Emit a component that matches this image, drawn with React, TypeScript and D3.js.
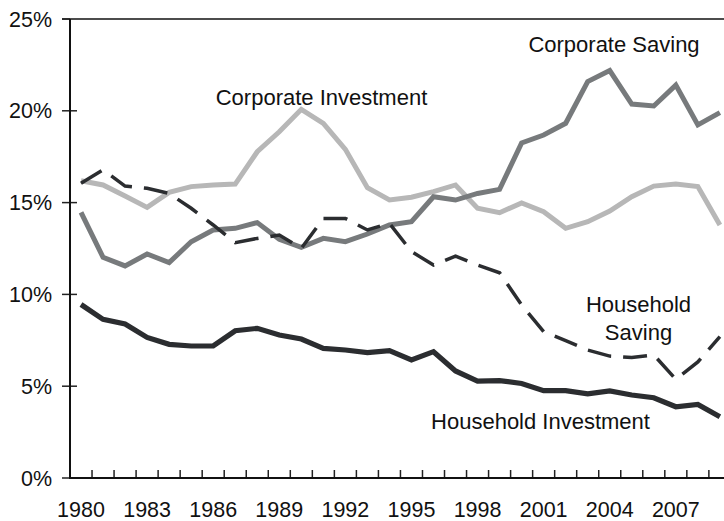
import React from "react";
import * as d3 from "d3";

const years = d3.range(1980, 2010);
const yTicks = [0, 5, 10, 15, 20, 25];
const xLabelYears = [1980, 1983, 1986, 1989, 1992, 1995, 1998, 2001, 2004, 2007];

const corporateSaving = [14.47, 12.02, 11.55, 12.2, 11.73, 12.87, 13.51, 13.6, 13.91, 13.0, 12.56, 13.05, 12.87, 13.29, 13.78, 13.96, 15.32, 15.14, 15.5, 15.72, 18.25, 18.68, 19.32, 21.59, 22.19, 20.37, 20.26, 21.4, 19.23, 19.9];
const corporateInvestment = [16.19, 15.96, 15.36, 14.74, 15.56, 15.87, 15.96, 16.01, 17.77, 18.86, 20.08, 19.32, 17.9, 15.81, 15.14, 15.29, 15.6, 15.96, 14.69, 14.45, 14.98, 14.5, 13.6, 13.96, 14.54, 15.32, 15.9, 16.01, 15.87, 13.78];
const householdSaving = [16.05, 16.78, 15.9, 15.78, 15.5, 14.69, 13.78, 12.82, 13.05, 13.23, 12.51, 14.14, 14.14, 13.51, 13.87, 12.33, 11.6, 12.09, 11.6, 11.18, 9.42, 7.97, 7.48, 6.97, 6.64, 6.56, 6.7, 5.38, 6.32, 7.7];
const householdInvestment = [9.45, 8.64, 8.39, 7.66, 7.28, 7.19, 7.19, 8.02, 8.15, 7.79, 7.57, 7.06, 6.97, 6.83, 6.94, 6.43, 6.88, 5.83, 5.28, 5.3, 5.15, 4.76, 4.76, 4.58, 4.74, 4.52, 4.37, 3.88, 4.01, 3.34];

const W = 724;
const H = 521;
const left = 70;
const top = 19;
const bottom = 478;
const step = 22.03;
const font = "'Liberation Sans', Arial, sans-serif";

export default function App() {
  const x = d3
    .scaleBand<number>()
    .domain(years)
    .range([left, left + years.length * step])
    .padding(0);
  const y = d3.scaleLinear().domain([0, 25]).range([bottom, top]);
  const cx = (yr: number) => (x(yr) as number) + x.bandwidth() / 2;
  const line = d3
    .line<number>()
    .x((_, i) => cx(years[i]))
    .y((v) => y(v));

  const series = [
    { data: corporateInvestment, color: "#b7b7b7", width: 5, dash: undefined },
    { data: corporateSaving, color: "#777a7c", width: 5, dash: undefined },
    { data: householdSaving, color: "#2b2d30", width: 3.5, dash: "24,12" },
    { data: householdInvestment, color: "#2b2d30", width: 5.2, dash: undefined },
  ];

  return (
    <svg
      width={W}
      height={H}
      style={{ position: "fixed", left: 0, top: 0, background: "#fff" }}
      fontFamily={font}
    >
      <rect x={0} y={0} width={W} height={H} fill="#fff" />
      {/* top border */}
      <line x1={62} x2={W} y1={y(25)} y2={y(25)} stroke="#111" strokeWidth={1.6} />
      {/* y ticks */}
      {yTicks.map((t) => (
        <g key={t}>
          <line x1={62} x2={t === 0 || t === 25 ? left : 77} y1={y(t)} y2={y(t)} stroke="#222" strokeWidth={1.5} />
          <text x={52} y={y(t) + 7.5} textAnchor="end" fontSize={21.5} fill="#111">
            {t}%
          </text>
        </g>
      ))}
      {/* x ticks */}
      {years.map((yr) => (
        <line key={yr} x1={x(yr)} x2={x(yr)} y1={bottom} y2={bottom - 8} stroke="#222" strokeWidth={1.5} />
      ))}
      {xLabelYears.map((yr) => (
        <text key={yr} x={cx(yr)} y={517} textAnchor="middle" fontSize={21.5} fill="#111">
          {yr}
        </text>
      ))}
      {/* series */}
      {series.map((s, i) => (
        <path
          key={i}
          d={line(s.data) as string}
          fill="none"
          stroke={s.color}
          strokeWidth={s.width}
          strokeDasharray={s.dash}
          strokeLinejoin="miter"
          strokeLinecap="butt"
        />
      ))}
      {/* axes */}
      <line x1={left} x2={left} y1={top} y2={bottom + 1} stroke="#111" strokeWidth={2} />
      <line x1={left} x2={W} y1={bottom} y2={bottom} stroke="#111" strokeWidth={2} />
      {/* labels */}
      <g fontSize={22} fill="#111" textAnchor="middle">
        <text x={614} y={51.7}>Corporate Saving</text>
        <text x={321.5} y={105}>Corporate Investment</text>
        <text x={638.5} y={312}>Household</text>
        <text x={638.5} y={340}>Saving</text>
        <text x={540.5} y={429}>Household Investment</text>
      </g>
    </svg>
  );
}
